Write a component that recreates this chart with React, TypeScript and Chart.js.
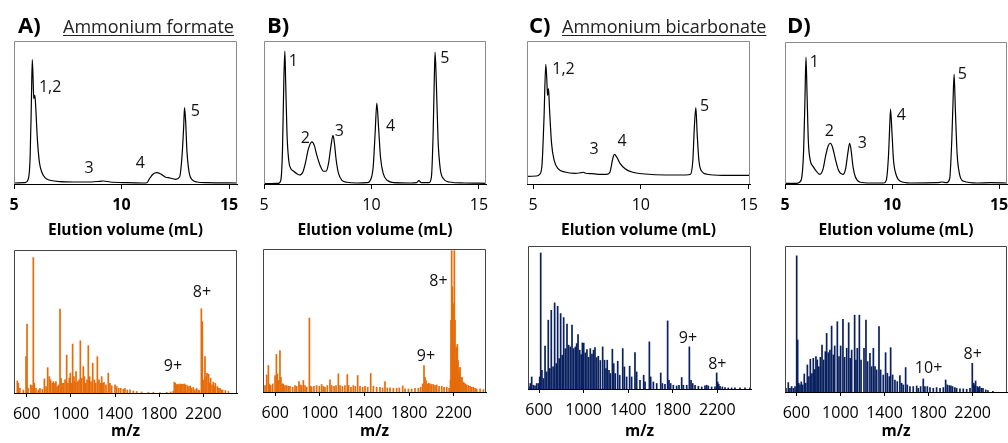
import React, { useEffect, useRef } from "react";
import { Chart, registerables } from "chart.js";
Chart.register(...registerables);

const FONT = "'Open Sans', sans-serif";

// ---------- tick labels ----------
const chromTicks = [5, 10, 15];
const msTicks = [600, 1000, 1400, 1800, 2200];

// ---------- chromatograms: [elution volume (mL), relative absorbance %] ----------
const chromA: [number, number][] = [
  [5.0, 0.7], [5.51, 0.9], [5.67, 3.7], [5.75, 18.9], [5.81, 58.5], [5.85, 87], [5.89, 72.5], [5.92, 59.7],
  [5.97, 62], [6.01, 53.8], [6.09, 30.5], [6.18, 15.4], [6.29, 8.4], [6.44, 4.4], [6.68, 2.6], [7.14, 1.6],
  [7.76, 1.4], [8.38, 1.4], [9.0, 1.9], [9.16, 2.1], [9.47, 1.4], [10.25, 0.9], [11.02, 0.7], [11.18, 0.9],
  [11.3, 3.7], [11.46, 6.8], [11.64, 7.9], [11.8, 7.2], [12.03, 4.9], [12.26, 4.2], [12.5, 3.3], [12.7, 4.9],
  [12.81, 18.9], [12.89, 39.9], [12.93, 53.4], [12.98, 44.5], [13.04, 23.5], [13.14, 8.4], [13.28, 3],
  [13.51, 1.4], [13.97, 0.9], [15.37, 0.7],
];
const chromB: [number, number][] = [
  [5.0, 0.2], [5.67, 0.5], [5.78, 2.6], [5.86, 23.5], [5.92, 70.2], [5.97, 93], [6.01, 70.2], [6.07, 35.2],
  [6.15, 16.6], [6.25, 10.7], [6.37, 9.1], [6.53, 7.2], [6.65, 6.3], [6.81, 8.4], [6.92, 14.2], [7.07, 24.7],
  [7.23, 29.4], [7.34, 27], [7.46, 20], [7.62, 12.6], [7.77, 8.9], [7.9, 9.1], [8.0, 14.2], [8.11, 25.9],
  [8.21, 34], [8.27, 29.4], [8.36, 16.6], [8.47, 7.2], [8.63, 2.6], [8.86, 1.2], [9.33, 0.7], [9.8, 0.9],
  [9.95, 2.6], [10.08, 11.9], [10.17, 35.2], [10.25, 56.6], [10.33, 39.9], [10.42, 18.9], [10.55, 7.2],
  [10.73, 2.6], [11.04, 0.9], [11.82, 0.7], [12.1, 0.9], [12.21, 2.3], [12.32, 0.9], [12.68, 0.9], [12.79, 4.9],
  [12.87, 35.2], [12.92, 70.2], [12.96, 92.3], [13.02, 70.2], [13.1, 30.5], [13.2, 10.7], [13.35, 3.7],
  [13.62, 1.4], [14.32, 0.7], [15.33, 0.5],
];
const chromC: [number, number][] = [
  [4.72, 5.4], [5.16, 5.6], [5.31, 6.8], [5.42, 14.2], [5.51, 46.9], [5.59, 83.7], [5.64, 72.5], [5.67, 62],
  [5.72, 66.7], [5.76, 53.8], [5.86, 28.2], [5.98, 16.6], [6.16, 10.7], [6.48, 8.4], [6.94, 7.5], [7.22, 7.9],
  [7.33, 8.2], [7.44, 7.5], [7.72, 7.2], [8.03, 6.8], [8.42, 6.8], [8.57, 8.4], [8.68, 16.6], [8.77, 20.7],
  [8.88, 18.9], [9.04, 14.2], [9.27, 10.7], [9.58, 8.4], [10.2, 7], [11.13, 6.3], [12.07, 6.3], [12.3, 6.8],
  [12.41, 16.6], [12.48, 39.9], [12.55, 53.4], [12.61, 35.2], [12.69, 16.6], [12.81, 9.1], [13.08, 6.8],
  [13.77, 6.1], [15.06, 6.1],
];
const chromD: [number, number][] = [
  [5.0, 0.5], [5.56, 0.5], [5.75, 2.6], [5.87, 23.5], [5.93, 58.5], [5.98, 89.3], [6.03, 63.2], [6.09, 30.5],
  [6.18, 16.6], [6.31, 12.4], [6.46, 9.1], [6.62, 6.8], [6.78, 10.7], [6.9, 20], [7.02, 27], [7.12, 28.7],
  [7.22, 25.9], [7.35, 17.7], [7.5, 9.6], [7.71, 6.8], [7.83, 10.7], [7.93, 21.2], [8.02, 28.7], [8.08, 24.7],
  [8.18, 11.9], [8.29, 4.9], [8.49, 1.4], [8.99, 0.7], [9.61, 0.7], [9.73, 2.6], [9.83, 18.9], [9.89, 39.9],
  [9.93, 52.7], [10.0, 35.2], [10.07, 16.6], [10.2, 6.1], [10.39, 1.9], [10.86, 0.7], [12.1, 0.9], [12.34, 1.4],
  [12.54, 0.9], [12.69, 3.7], [12.79, 30.5], [12.85, 58.5], [12.9, 77.2], [12.96, 51.5], [13.04, 21.2],
  [13.15, 7.2], [13.35, 1.9], [13.97, 0.7], [14.59, 0.9], [15.37, 0.7],
];

// ---------- mass spectra: [m/z, relative intensity %] ----------
const specA: [number, number][] = [
  [515, 8.6], [524, 7], [539, 3.5], [570, 2.3], [594, 25.6], [603, 48.4], [612, 3.5], [636, 5.8], [648, 5.3],
  [660, 94.9], [669, 7], [684, 3.5], [705, 2.3], [720, 3.5], [742, 2.8], [760, 10], [775, 4.7], [790, 17.9],
  [805, 11.6], [817, 9.3], [832, 7], [841, 8.1], [856, 7], [865, 8.1], [877, 4.7], [890, 5.8], [902, 58.8],
  [911, 10.5], [920, 7], [932, 7], [947, 9.3], [962, 26.7], [974, 7], [986, 10.5], [995, 14], [1007, 7],
  [1016, 34.4], [1028, 11.6], [1038, 8.1], [1047, 15.1], [1062, 8.1], [1074, 9.3], [1086, 36.7], [1098, 10.5],
  [1113, 18.6], [1122, 11.6], [1134, 7], [1146, 9.3], [1158, 33.3], [1170, 11.6], [1183, 8.1], [1198, 20.9],
  [1213, 9.3], [1225, 7], [1240, 25.6], [1255, 9.3], [1267, 7], [1279, 11.6], [1291, 7], [1300, 7.7],
  [1318, 5.8], [1339, 14], [1354, 7], [1370, 5.3], [1400, 5.8], [1415, 4.7], [1433, 3.5], [1451, 3.5],
  [1475, 2.8], [1490, 3.5], [1511, 2.3], [1536, 2.3], [1566, 1.6], [1596, 1.2], [1641, 0.9], [1702, 0.7],
  [1747, 0.7], [1807, 0.5], [1868, 0.7], [1904, 0.9], [1928, 1.4], [1937, 7.7], [1946, 7], [1958, 6],
  [1968, 6.3], [1980, 6], [1992, 6.5], [2004, 6.3], [2016, 6.3], [2028, 6.5], [2040, 5.8], [2055, 5.3],
  [2070, 4.7], [2082, 5.1], [2094, 3.5], [2109, 4], [2124, 2.3], [2139, 3.5], [2155, 2.3], [2164, 1.9],
  [2182, 59.1], [2191, 50], [2203, 9.3], [2215, 25.6], [2224, 11.6], [2233, 14], [2248, 13.3], [2257, 7],
  [2266, 10.5], [2279, 5.8], [2291, 7.7], [2300, 4.7], [2309, 7], [2327, 4.7], [2339, 3.5], [2351, 3.5],
  [2363, 2.3], [2375, 2.3], [2399, 1.9], [2427, 1.2],
];
const specB: [number, number][] = [
  [493, 3.5], [508, 4.7], [523, 12.1], [538, 18.7], [547, 5.8], [559, 4.7], [577, 5.8], [598, 11.7], [610, 26.4],
  [619, 12.9], [631, 8.2], [642, 29.2], [651, 10.5], [663, 5.8], [672, 5.8], [687, 4.7], [702, 4.7], [717, 4.2],
  [732, 4.2], [756, 3.5], [777, 4.7], [792, 4.2], [813, 7.5], [822, 5.1], [837, 4.7], [852, 8.2], [867, 4.7],
  [882, 3.5], [906, 51.9], [918, 4.2], [926, 3.5], [947, 4.2], [971, 4.7], [995, 4.2], [1016, 5.4], [1031, 4],
  [1046, 3.5], [1067, 4.7], [1091, 8.6], [1106, 4.7], [1127, 4.2], [1145, 4.7], [1166, 12.9], [1181, 4.7],
  [1202, 4.2], [1225, 4.7], [1246, 12.4], [1258, 4.7], [1279, 3.5], [1300, 4.7], [1318, 4], [1339, 11.7],
  [1360, 4.2], [1384, 3.5], [1405, 4.2], [1429, 3.5], [1456, 13.1], [1480, 4.2], [1509, 3.5], [1539, 3.5],
  [1563, 3], [1584, 7.5], [1605, 3], [1629, 3], [1659, 2.8], [1689, 2.8], [1713, 3], [1743, 4.4], [1764, 2.3],
  [1794, 2.3], [1823, 2.3], [1853, 2.8], [1883, 2.8], [1904, 3.5], [1922, 5.8], [1934, 18.7], [1943, 10.5],
  [1952, 8.2], [1964, 5.8], [1976, 6.3], [1988, 5.8], [2003, 5.4], [2018, 5.4], [2033, 4.7], [2048, 5.1],
  [2069, 4.2], [2093, 4.2], [2114, 3.5], [2138, 3.5], [2159, 2.8], [2171, 8.2], [2176, 50.2], [2182, 99],
  [2188, 73.6], [2194, 40.9], [2200, 61.9], [2206, 99], [2212, 50.2], [2218, 22.2], [2224, 31.5], [2233, 33.4],
  [2239, 22.2], [2245, 12.9], [2251, 16.4], [2257, 17.5], [2266, 10.5], [2275, 10.5], [2284, 7], [2293, 6.5],
  [2305, 5.8], [2317, 5.1], [2332, 4.7], [2347, 4.2], [2362, 3.5], [2377, 3.5], [2392, 2.8], [2407, 2.3],
  [2437, 2.3], [2466, 1.9],
];
const specC: [number, number][] = [
  [510, 1.6], [522, 4], [534, 8.6], [549, 2.8], [564, 2.3], [579, 4], [594, 4], [606, 8.6], [615, 95.3],
  [626, 13.3], [639, 7.5], [654, 30.1], [668, 12.1], [683, 48.3], [697, 14.5], [710, 55.2], [726, 15.6],
  [740, 60.4], [754, 17.9], [767, 58], [781, 21.4], [794, 52.9], [808, 23.8], [821, 50.1], [836, 28.4],
  [851, 45.5], [866, 30.8], [881, 29.6], [896, 44.8], [911, 28.4], [926, 29.6], [938, 31.9], [950, 38.2],
  [965, 27.3], [978, 24.2], [989, 32.4], [1001, 32.2], [1015, 25.4], [1030, 27.7], [1045, 22.4], [1060, 28.4],
  [1075, 24.5], [1089, 27.3], [1102, 29.1], [1117, 22.1], [1132, 23.1], [1150, 20.1], [1171, 29.6],
  [1188, 20.3], [1201, 14.5], [1212, 20.3], [1228, 13.3], [1240, 11], [1258, 28], [1270, 17.9], [1284, 11],
  [1306, 19.6], [1324, 9.8], [1351, 28.4], [1366, 15.6], [1386, 8.6], [1413, 16.1], [1431, 8.6], [1461, 25.6],
  [1476, 12.1], [1506, 6.3], [1539, 9.8], [1551, 5.1], [1590, 33.1], [1602, 8.6], [1626, 5.1], [1656, 4],
  [1692, 11.4], [1707, 4], [1730, 3.5], [1754, 47.8], [1766, 6.3], [1781, 4], [1805, 2.8], [1835, 2.3],
  [1856, 2.8], [1880, 8.2], [1895, 2.8], [1925, 2.8], [1949, 29.6], [1964, 6.3], [1979, 4], [2000, 2.8],
  [2030, 2.1], [2060, 1.6], [2089, 2.3], [2104, 2.8], [2119, 2.3], [2149, 1.6], [2179, 1.6], [2194, 11.4],
  [2203, 5.1], [2212, 3.5], [2224, 2.1], [2245, 1.6], [2269, 1.2], [2298, 0.9], [2328, 0.9], [2358, 0.9],
  [2403, 0.9], [2448, 0.9], [2493, 0.9],
];
const specD: [number, number][] = [
  [506, 2.7], [527, 6.6], [542, 2.7], [557, 3.9], [573, 2.7], [588, 3.9], [603, 93.4], [612, 35.8], [621, 6.2],
  [633, 5], [645, 7.1], [657, 5], [672, 12.5], [685, 6.2], [700, 18.7], [714, 10.7], [727, 22.6], [741, 12.7],
  [754, 23.2], [768, 15.5], [778, 24.4], [790, 22.1], [804, 17.5], [818, 23.9], [833, 32.3], [847, 22.1],
  [863, 27.8], [875, 40.3], [890, 27.1], [905, 28.9], [920, 45.3], [936, 25.5], [948, 31.7], [972, 48.3],
  [987, 24.4], [1002, 31.7], [1023, 49.9], [1038, 23.9], [1057, 30.1], [1075, 47.6], [1089, 23.2],
  [1102, 28.9], [1129, 52.8], [1141, 22.1], [1153, 30.1], [1172, 52.8], [1187, 22.1], [1214, 30.1],
  [1232, 49.4], [1247, 21], [1268, 26.7], [1283, 17.5], [1299, 30.1], [1314, 17.5], [1329, 15.3], [1350, 44.9],
  [1365, 15.3], [1389, 11.8], [1410, 27.1], [1426, 13], [1444, 10.7], [1456, 30.5], [1474, 11.8], [1495, 8.4],
  [1516, 7.3], [1540, 11.4], [1556, 6.2], [1571, 5], [1592, 16.9], [1607, 5], [1631, 3.9], [1661, 3.9],
  [1692, 4.3], [1707, 2.7], [1728, 3.9], [1752, 9.1], [1767, 3.9], [1789, 3.9], [1813, 3.2], [1843, 2.7],
  [1873, 3.2], [1904, 2.7], [1934, 3.2], [1955, 8.4], [1970, 5], [1988, 4.6], [2003, 4.3], [2018, 3.9],
  [2039, 3.2], [2055, 2.7], [2085, 2.3], [2115, 2.3], [2146, 2], [2176, 2.7], [2197, 19.8], [2209, 6.2],
  [2218, 5], [2227, 7.7], [2242, 3.9], [2252, 3.2], [2264, 3.9], [2279, 2.7], [2294, 2.7], [2319, 1.6],
  [2339, 1.1], [2384, 0.7],
];

// ---------- annotations: [text, x, y] in data units ----------
const peaksA: [string, number, number][] = [["1,2", 6.68, 67.7], ["3", 8.49, 11.2], ["4", 10.87, 14.7], ["5", 13.43, 51]];
const peaksB: [string, number, number][] = [["1", 6.36, 85.8], ["2", 6.92, 32.1], ["3", 8.5, 37], ["4", 10.89, 40.5], ["5", 13.41, 87.9]];
const peaksC: [string, number, number][] = [["1,2", 6.41, 80.3], ["3", 7.83, 24.4], ["4", 9.13, 30], ["5", 12.95, 54.4]];
const peaksD: [string, number, number][] = [["1", 6.37, 85.8], ["2", 7.07, 37], ["3", 8.61, 28.6], ["4", 10.43, 48.1], ["5", 13.28, 77.5]];
const ionsA: [string, number, number][] = [["8+", 2188, 70.6], ["9+", 1925, 18.9]];
const ionsB: [string, number, number][] = [["8+", 2063, 77.6], ["9+", 1952, 25.2]];
const ionsC: [string, number, number][] = [["9+", 1936, 35.7], ["8+", 2200, 17.5]];
const ionsD: [string, number, number][] = [["10+", 1800, 16.4], ["8+", 2200, 26]];

// ---------- layout (positions & styles) ----------
type Frame = { l: number; r: number; t: number; b: number };
type PanelCfg = {
  kind: "chrom" | "ms";
  series: [number, number][];
  notes: [string, number, number][];
  frame: Frame;
  xMin: number;
  xMax: number;
  boldTicks?: boolean;
  color: string;
};

const ORANGE = "#E66C0A";
const NAVY = "#0A2160";

const panels: PanelCfg[] = [
  { kind: "chrom", series: chromA, notes: peaksA, frame: { l: 14, r: 237, t: 41, b: 184 }, xMin: 5, xMax: 15.37, boldTicks: true, color: "#000" },
  { kind: "chrom", series: chromB, notes: peaksB, frame: { l: 264, r: 486, t: 41, b: 184 }, xMin: 5, xMax: 15.33, color: "#000" },
  { kind: "chrom", series: chromC, notes: peaksC, frame: { l: 527, r: 750, t: 41, b: 184 }, xMin: 4.72, xMax: 15.06, color: "#000" },
  { kind: "chrom", series: chromD, notes: peaksD, frame: { l: 785, r: 1007, t: 42, b: 184 }, xMin: 5, xMax: 15.37, boldTicks: true, color: "#000" },
  { kind: "ms", series: specA, notes: ionsA, frame: { l: 14, r: 237, t: 250, b: 393 }, xMin: 485, xMax: 2505, color: ORANGE },
  { kind: "ms", series: specB, notes: ionsB, frame: { l: 263, r: 486, t: 249, b: 392 }, xMin: 490, xMax: 2490, color: ORANGE },
  { kind: "ms", series: specC, notes: ionsC, frame: { l: 528, r: 751, t: 246, b: 389 }, xMin: 501, xMax: 2502, color: NAVY },
  { kind: "ms", series: specD, notes: ionsD, frame: { l: 785, r: 1007, t: 246, b: 392 }, xMin: 497, xMax: 2512, color: NAVY },
];

const PADX = 22;

function Panel({ cfg }: { cfg: PanelCfg }) {
  const ref = useRef<HTMLCanvasElement>(null);
  const isChrom = cfg.kind === "chrom";
  const canvasTop = isChrom ? 36 : 240;
  const canvasBottom = isChrom ? 242 : 443;
  const width = cfg.frame.r - cfg.frame.l + 2 * PADX;
  const height = canvasBottom - canvasTop;

  useEffect(() => {
    const framePlugin = {
      id: "frameBox",
      afterDatasetsDraw(chart: any) {
        const { ctx, chartArea } = chart;
        const { left, top, right, bottom } = chartArea;
        ctx.save();
        ctx.strokeStyle = isChrom ? "#8a8a8a" : "#444";
        ctx.lineWidth = 1;
        ctx.beginPath();
        ctx.moveTo(left + 0.5, bottom);
        ctx.lineTo(left + 0.5, top + 0.5);
        ctx.lineTo(right - 0.5, top + 0.5);
        ctx.lineTo(right - 0.5, bottom);
        ctx.stroke();
        ctx.restore();
      },
    };
    const notePlugin = {
      id: "notes",
      afterDraw(chart: any) {
        const { ctx, scales } = chart;
        ctx.save();
        ctx.font = `16px ${FONT}`;
        ctx.fillStyle = "#111";
        ctx.textAlign = "center";
        ctx.textBaseline = "middle";
        cfg.notes.forEach(([t, x, y]) => {
          ctx.fillText(t, scales.x.getPixelForValue(x), scales.y.getPixelForValue(y));
        });
        ctx.restore();
      },
    };
    const ticks = isChrom ? chromTicks : msTicks;
    const dataset: any = isChrom
      ? {
          data: cfg.series.map(([x, y]) => ({ x, y })),
          borderColor: cfg.color,
          borderWidth: 1.2,
          pointRadius: 0,
          cubicInterpolationMode: "monotone",
          fill: false,
        }
      : {
          data: cfg.series.map(([x, y]) => ({ x, y })),
          backgroundColor: cfg.color,
          borderWidth: 0,
          barThickness: 1.5,
          inflateAmount: 0.1,
        };
    const chart = new Chart(ref.current as HTMLCanvasElement, {
      type: isChrom ? "line" : "bar",
      data: { datasets: [dataset] },
      options: {
        responsive: false,
        animation: false,
        devicePixelRatio: 1,
        layout: {
          autoPadding: false,
          padding: { left: PADX, right: PADX, top: cfg.frame.t - canvasTop, bottom: 0 },
        },
        plugins: { legend: { display: false }, tooltip: { enabled: false }, title: { display: false } },
        scales: {
          x: {
            type: "linear",
            min: cfg.xMin,
            max: cfg.xMax,
            offset: false,
            afterBuildTicks: (s: any) => {
              s.ticks = ticks.map((v) => ({ value: v }));
            },
            afterFit: (s: any) => {
              s.height = canvasBottom - cfg.frame.b;
            },
            ticks: {
              autoSkip: false,
              maxRotation: 0,
              minRotation: 0,
              padding: isChrom ? 7 : 8,
              color: "#000",
              font: { family: FONT, size: 16, weight: cfg.boldTicks ? "bold" : "normal" },
              callback: (v: any) => String(v),
            },
            grid: {
              display: true,
              offset: false,
              drawOnChartArea: false,
              drawTicks: true,
              tickLength: isChrom ? 5 : 4,
              color: "#000",
            },
            border: { display: true, color: "#000", width: 1 },
            title: {
              display: true,
              text: isChrom ? "Elution volume (mL)" : "m/z",
              color: "#000",
              font: { family: FONT, size: 15.5, weight: "bold" },
              padding: { top: 0, bottom: isChrom ? 2.5 : 2 },
            },
          },
          y: { display: false, min: 0, max: 100 },
        },
      } as any,
      plugins: [framePlugin, notePlugin],
    });
    return () => chart.destroy();
  }, []);

  return (
    <canvas
      ref={ref}
      width={width}
      height={height}
      style={{ position: "absolute", left: cfg.frame.l - PADX, top: canvasTop, width, height }}
    />
  );
}

const headStyle: React.CSSProperties = {
  position: "absolute",
  fontFamily: FONT,
  lineHeight: 1,
  whiteSpace: "nowrap",
};
const letterStyle: React.CSSProperties = { ...headStyle, top: 13, fontSize: 22, fontWeight: 700 };
const titleStyle: React.CSSProperties = {
  ...headStyle,
  top: 16.5,
  fontSize: 18,
  color: "#222",
  textDecoration: "underline",
  textUnderlineOffset: "2px",
  textDecorationThickness: "1.3px",
};

export default function App() {
  return (
    <div
      style={{
        position: "fixed",
        left: 0,
        top: 0,
        width: 1008,
        height: 443,
        background: "#fff",
        overflow: "hidden",
        fontFamily: FONT,
      }}
    >
      {panels.map((p, i) => (
        <Panel key={i} cfg={p} />
      ))}
      <span style={{ ...letterStyle, left: 18 }}>A)</span>
      <span style={{ ...titleStyle, left: 63 }}>Ammonium formate</span>
      <span style={{ ...letterStyle, left: 267 }}>B)</span>
      <span style={{ ...letterStyle, left: 529 }}>C)</span>
      <span style={{ ...titleStyle, left: 562 }}>Ammonium bicarbonate</span>
      <span style={{ ...letterStyle, left: 787 }}>D)</span>
    </div>
  );
}
